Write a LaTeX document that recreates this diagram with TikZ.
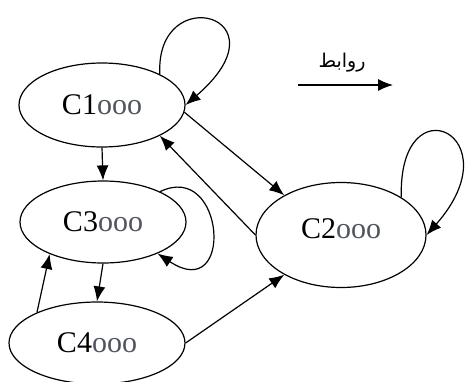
\documentclass[tikz,border=0pt]{standalone}
\usepackage{fontspec}
\setmainfont{Liberation Serif}
\newfontfamily\arabicfont[Script=Arabic]{DejaVu Sans}
\TeXXeTstate=1
\usetikzlibrary{shapes.geometric,arrows.meta}
\definecolor{ocol}{HTML}{50545F}
\tikzset{
  state/.style={draw, ellipse, line width=1.2pt, inner sep=0pt, font=\fontsize{30}{30}\selectfont},
  conn/.style={line width=1.2pt, -{Latex[length=15pt,width=12pt]}},
}
\newcommand{\lbl}[1]{#1\textcolor{ocol}{ooo}}
\begin{document}
\begin{tikzpicture}[x=1pt,y=-1pt]
\useasboundingbox (0,0) rectangle (465,381);
\node[state, minimum width=166pt, minimum height=84pt] (C1) at (102,105) {\lbl{C1}};
\node[state, minimum width=166pt, minimum height=82pt] (C3) at (103,222) {\lbl{C3}};
\node[state, minimum width=176pt, minimum height=82pt] (C4) at (97,343) {\lbl{C4}};
\node[state, minimum width=170pt, minimum height=105pt] (C2) at (341,235) {};
\node[font=\fontsize{30}{30}\selectfont, inner sep=0pt] (T2) at (341,229) {\lbl{C2}};
% edges
\draw[conn] (C1.south) -- (C3.north);
\draw[conn] (C1.-5) -- (C2.145);
\draw[conn] (C2.180) -- (C1.-28);
\draw[conn] (C3.south) -- (C4.north);
\draw[conn] (C4.153) -- (C3.-149);
\draw[conn] (C4.0) -- (C2.215);
% loops
\draw[conn] (C1.28) .. controls (155,-20) and (290,15) .. (C1.0);
\draw[conn] (C3.28) .. controls (225,160) and (235,305) .. (C3.-30);
\draw[conn] (C2.32) .. controls (398,80) and (515,135) .. (C2.0);
% legend
\coordinate (la) at (298,85);
\coordinate (lb) at (393,85);
\draw[conn] (la) -- (lb);
\node[font=\fontsize{19}{19}\selectfont] (rel) at (342,63) {\arabicfont\beginR روابط\endR};
\end{tikzpicture}
\end{document}
